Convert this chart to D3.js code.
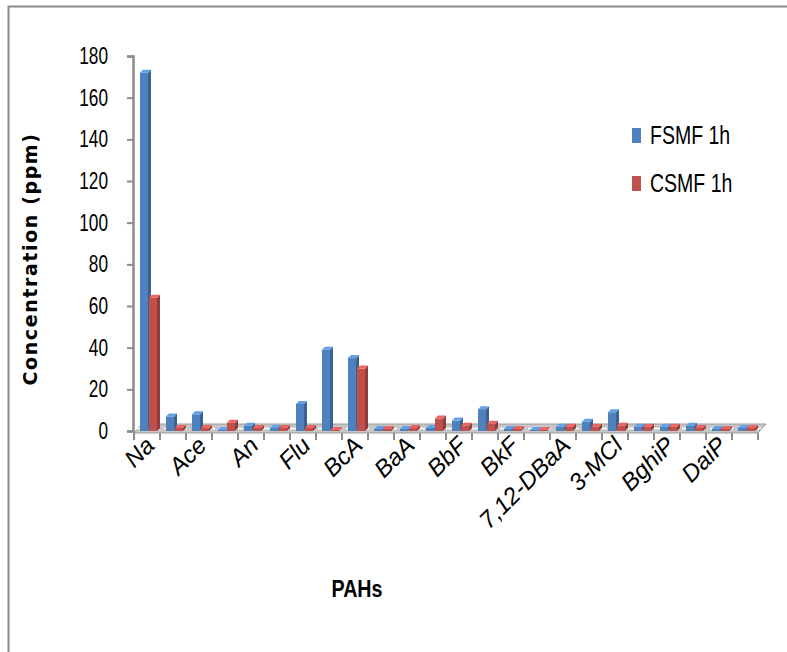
<!DOCTYPE html>
<html>
<head>
<meta charset="utf-8">
<script src="https://cdn.jsdelivr.net/npm/d3@7"></script>
<style>
  body { margin: 0; background: #fff; }
  text { font-family: "Liberation Sans", sans-serif; }
</style>
</head>
<body>
<script>
// categories (every other one is labelled on the axis)
var categories = ["Na", "Acy", "Ace", "Fle", "An", "Phe", "Flu", "Pyr", "BcA", "Chr", "BaA", "BeP",
                  "BbF", "BjF", "BkF", "BaP", "7,12-DBaA", "DBahA", "3-MCl", "IcdP", "BghiP", "DalP", "DaiP", "DahP"];
var labelled = ["Na", "Ace", "An", "Flu", "BcA", "BaA", "BbF", "BkF", "7,12-DBaA", "3-MCl", "BghiP", "DaiP"];
var seriesNames = ["FSMF 1h", "CSMF 1h"];
var fsmf = [172, 7, 8, 0.5, 2.5, 1.5, 13, 39, 35, 1, 1, 1.5, 5, 10.5, 1, 0.5, 2, 4.5, 9, 2, 2, 2.5, 1, 1.5];
var csmf = [64, 1.5, 1.5, 4, 1.5, 1.5, 1.5, 0.5, 30, 1, 1.5, 6, 2.5, 3.5, 1, 0.5, 2, 2, 2.5, 2, 2, 1.5, 1, 1.5];
var yTicks = [0, 20, 40, 60, 80, 100, 120, 140, 160, 180];
var colors = ["#4F81BD", "#C0504D"];

var width = 787, height = 652;
var svg = d3.select("body").append("svg")
    .attr("width", width).attr("height", height);

// outer frame
svg.append("path")
    .attr("d", "M8.5,652 V6.5 H787")
    .attr("fill", "none").attr("stroke", "#8c8c8c").attr("stroke-width", 2);

var x = d3.scaleBand().domain(categories).range([134, 758]);
var xs = d3.scaleBand().domain(seriesNames).range([6, 24]);
var y = d3.scaleLinear().domain([0, 180]).range([431, 56]);

// floor
var depth = 8;
svg.append("polygon")
    .attr("points", [[134, 433], [758, 433], [758 + depth, 424], [134 + depth, 424]].join(" "))
    .attr("fill", "#c6c6c6").attr("stroke", "#9a9a9a");
svg.append("line")
    .attr("x1", 136).attr("x2", 762).attr("y1", 428.5).attr("y2", 428.5)
    .attr("stroke", "#fff").attr("stroke-width", 1.5).attr("stroke-dasharray", "9,5");

// y axis
var sx = 0.75;
var yAxis = g => g
    .attr("transform", "translate(133,0)")
    .call(d3.axisLeft(y).tickValues(yTicks).tickSize(6))
    .call(g => g.select(".domain").attr("stroke", "#8c8c8c").attr("stroke-width", 2.5))
    .call(g => g.selectAll(".tick line").attr("stroke", "#8c8c8c").attr("stroke-width", 2))
    .call(g => g.selectAll(".tick text")
        .attr("x", -25 / sx)
        .attr("transform", "scale(" + sx + ",1)")
        .attr("font-size", 23).attr("fill", "#000"));
svg.append("g").call(yAxis);

// x axis ticks
var xAxis = g => g
    .attr("transform", "translate(0,433)")
    .call(d3.axisBottom(x).tickSize(7).tickFormat(""))
    .call(g => g.select(".domain").remove())
    .call(g => g.selectAll(".tick line")
        .attr("transform", d => "translate(" + (-x.bandwidth() / 2) + ",0)")
        .attr("stroke", "#8c8c8c").attr("stroke-width", 2));
svg.append("g").call(xAxis);
svg.append("line").attr("x1", 758).attr("x2", 758).attr("y1", 433).attr("y2", 440)
    .attr("stroke", "#8c8c8c").attr("stroke-width", 2);

// bars with a small 3D look
var bars = [];
categories.forEach((c, i) => {
  bars.push({cat: c, s: 0, v: fsmf[i]});
  bars.push({cat: c, s: 1, v: csmf[i]});
});
var bw = xs.bandwidth() - 1, d3d = 3;
var bg = svg.append("g").selectAll("g").data(bars).enter().append("g");
bg.append("rect")
    .attr("x", d => x(d.cat) + xs(seriesNames[d.s]))
    .attr("y", d => y(d.v))
    .attr("width", bw)
    .attr("height", d => y(0) - y(d.v))
    .attr("fill", d => colors[d.s]);
bg.append("polygon")
    .attr("points", d => {
      var x0 = x(d.cat) + xs(seriesNames[d.s]), y0 = y(d.v);
      return [[x0 + bw, y0], [x0 + bw + d3d, y0 - d3d], [x0 + bw + d3d, y(0) - d3d], [x0 + bw, y(0)]].join(" ");
    })
    .attr("fill", d => d3.color(colors[d.s]).darker(0.8));
bg.append("polygon")
    .attr("points", d => {
      var x0 = x(d.cat) + xs(seriesNames[d.s]), y0 = y(d.v);
      return [[x0, y0], [x0 + d3d, y0 - d3d], [x0 + bw + d3d, y0 - d3d], [x0 + bw, y0]].join(" ");
    })
    .attr("fill", d => d3.color(colors[d.s]).brighter(0.6));

// category labels
svg.append("g").selectAll("text").data(labelled).enter().append("text")
    .attr("transform", d => "translate(" + (x(d) + x.bandwidth() / 2 + 9) + ",447) rotate(-45)")
    .attr("text-anchor", "end")
    .style("font-style", "italic")
    .attr("font-size", 24)
    .text(d => d);

// axis titles
svg.append("text")
    .attr("transform", "translate(37,259) rotate(-90)")
    .attr("text-anchor", "middle")
    .style("font-family", "'DejaVu Sans', sans-serif")
    .attr("font-weight", "bold")
    .attr("font-size", 19)
    .attr("letter-spacing", 1.6)
    .text("Concentration  (ppm)");
svg.append("text")
    .attr("transform", "translate(357,597) scale(0.82,1)")
    .attr("text-anchor", "middle")
    .attr("font-weight", "bold")
    .attr("font-size", 24)
    .text("PAHs");

// legend
var lg = svg.append("g").selectAll("g").data(seriesNames).enter().append("g")
    .attr("transform", (d, i) => "translate(632," + (128 + i * 48) + ")");
lg.append("rect").attr("width", 9).attr("height", 15).attr("fill", (d, i) => colors[i]);
lg.append("text")
    .attr("transform", "translate(18,16) scale(0.78,1)")
    .attr("font-size", 25).text(d => d);
</script>
</body>
</html>
